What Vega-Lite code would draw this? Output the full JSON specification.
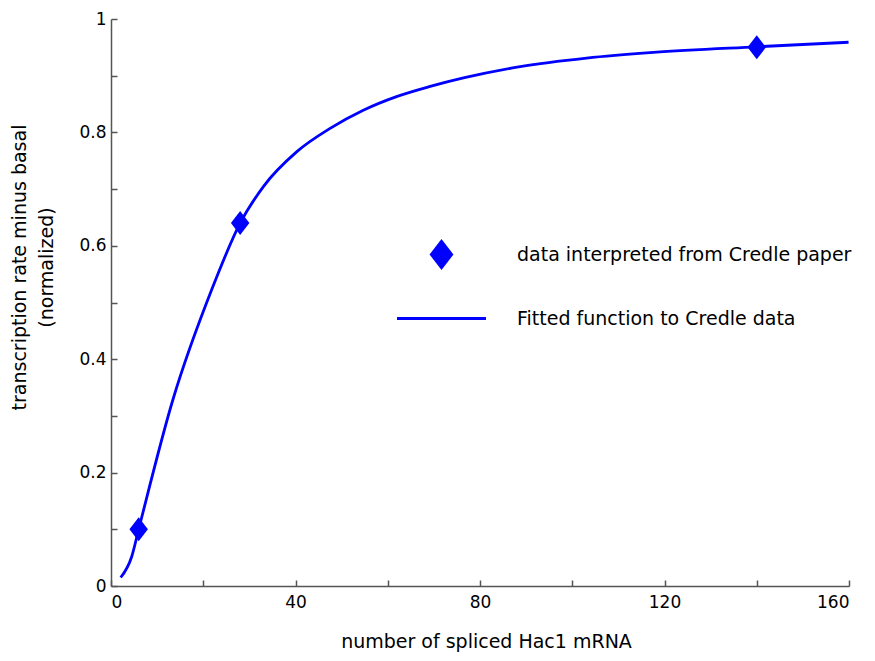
{
  "$schema": "https://vega.github.io/schema/vega-lite/v6.json",
  "width": 738,
  "height": 567,
  "autosize": {"type": "none"},
  "padding": {"left": 111, "top": 19, "right": 26, "bottom": 75},
  "background": "white",
  "config": {
    "view": {"stroke": null},
    "font": "DejaVu Sans",
    "axis": {
      "grid": false,
      "domainColor": "#555555",
      "domainWidth": 1.5,
      "tickColor": "#555555",
      "tickWidth": 1.5,
      "tickSize": -6,
      "labelColor": "#000000",
      "labelFontSize": 17,
      "titleColor": "#000000",
      "titleFontSize": 19,
      "titleFontWeight": "normal"
    }
  },
  "datasets": {
    "curve": [
      {"n": 2.1, "rate": 0.015},
      {"n": 4.5, "rate": 0.052},
      {"n": 6, "rate": 0.1},
      {"n": 13.4, "rate": 0.328},
      {"n": 21.8, "rate": 0.522},
      {"n": 28, "rate": 0.64},
      {"n": 33, "rate": 0.704},
      {"n": 40.3, "rate": 0.766},
      {"n": 47.5, "rate": 0.807},
      {"n": 54.7, "rate": 0.839},
      {"n": 61.9, "rate": 0.863},
      {"n": 69.2, "rate": 0.881},
      {"n": 76.4, "rate": 0.896},
      {"n": 88.7, "rate": 0.916},
      {"n": 103.1, "rate": 0.931},
      {"n": 117.6, "rate": 0.941},
      {"n": 140, "rate": 0.951},
      {"n": 159.9, "rate": 0.959}
    ],
    "credle": [
      {"n": 6, "rate": 0.1, "series": "data interpreted from Credle paper"},
      {"n": 28, "rate": 0.64, "series": "data interpreted from Credle paper"},
      {"n": 140, "rate": 0.95, "series": "data interpreted from Credle paper"}
    ]
  },
  "encoding": {
    "x": {
      "field": "n",
      "type": "quantitative",
      "scale": {"domain": [0, 160], "nice": false, "zero": false},
      "axis": {
        "values": [0, 20, 40, 60, 80, 100, 120, 140, 160],
        "format": "d",
        "labelExpr": "datum.value % 40 === 0 ? datum.label : ''",
        "labelPadding": 14,
        "title": "number of spliced Hac1 mRNA",
        "titleX": 375,
        "titleY": 55,
        "titleBaseline": "middle",
        "titleAlign": "center"
      }
    },
    "y": {
      "field": "rate",
      "type": "quantitative",
      "scale": {"domain": [0, 1], "nice": false},
      "axis": {
        "values": [0, 0.1, 0.2, 0.3, 0.4, 0.5, 0.6, 0.7, 0.8, 0.9, 1],
        "format": "~g",
        "labelExpr": "round(datum.value * 10) % 2 === 0 ? datum.label : ''",
        "labelPadding": 11,
        "title": ["transcription rate minus basal", "(normalized)"],
        "titleLineHeight": 27,
        "titleAngle": -90,
        "titleX": -92,
        "titleY": 248,
        "titleBaseline": "middle",
        "titleAlign": "center"
      }
    }
  },
  "layer": [
    {
      "data": {"name": "curve"},
      "mark": {"type": "line", "color": "#0000ff", "strokeWidth": 2.8, "interpolate": "monotone"}
    },
    {
      "data": {"name": "credle"},
      "mark": {"type": "point", "filled": true, "opacity": 1, "color": "#0000ff", "size": 576, "strokeWidth": 0},
      "encoding": {
        "shape": {
          "field": "series",
          "type": "nominal",
          "scale": {
            "domain": ["data interpreted from Credle paper", "Fitted function to Credle data"],
            "range": ["M0,-1L0.77,0L0,1L-0.77,0Z", "M-2.87,-0.09L2.87,-0.09L2.87,0.09L-2.87,0.09Z"]
          },
          "legend": {
            "title": null,
            "orient": "none",
            "legendX": 315,
            "legendY": 220,
            "symbolSize": 961,
            "symbolFillColor": "#0000ff",
            "symbolStrokeWidth": 0,
            "labelFontSize": 19,
            "labelLimit": 0,
            "labelColor": "#000000",
            "labelOffset": 60,
            "rowPadding": 33,
            "encode": {
              "symbols": {
                "update": {
                  "fill": {"value": "#0000ff"},
                  "strokeWidth": {"value": 0},
                  "opacity": {"value": 1}
                }
              }
            }
          }
        }
      }
    }
  ]
}
